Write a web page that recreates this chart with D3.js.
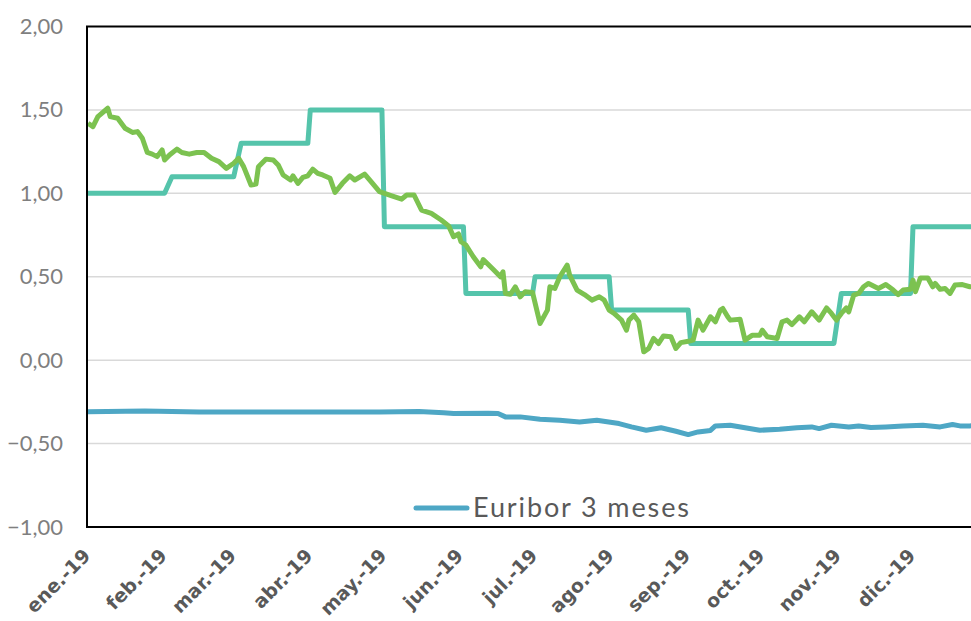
<!DOCTYPE html>
<html>
<head>
<meta charset="utf-8">
<script src="https://d3js.org/d3.v7.min.js"></script>
<style>
  body { margin: 0; background: #fff; }
  svg { display: block; }
</style>
</head>
<body>
<svg width="971" height="621"></svg>
<script>
// Bono 10 años (verde)
const bono = [
  ["2019-01-01",1.42],["2019-01-03",1.40],["2019-01-05",1.46],["2019-01-09",1.51],["2019-01-10",1.46],
  ["2019-01-13",1.45],["2019-01-16",1.39],["2019-01-19",1.365],["2019-01-21",1.37],["2019-01-23",1.33],
  ["2019-01-25",1.245],["2019-01-27",1.235],["2019-01-29",1.22],["2019-01-31",1.26],["2019-02-01",1.20],
  ["2019-02-03",1.23],["2019-02-06",1.265],["2019-02-08",1.245],["2019-02-11",1.235],["2019-02-14",1.245],
  ["2019-02-17",1.245],["2019-02-20",1.21],["2019-02-23",1.19],["2019-02-26",1.15],["2019-03-01",1.18],
  ["2019-03-03",1.21],["2019-03-05",1.16],["2019-03-08",1.05],["2019-03-10",1.055],["2019-03-11",1.16],
  ["2019-03-14",1.205],["2019-03-17",1.20],["2019-03-19",1.17],["2019-03-21",1.11],["2019-03-24",1.08],
  ["2019-03-25",1.105],["2019-03-27",1.06],["2019-03-29",1.095],["2019-03-31",1.105],["2019-04-02",1.145],
  ["2019-04-04",1.12],["2019-04-06",1.11],["2019-04-09",1.09],["2019-04-11",1.005],["2019-04-14",1.06],
  ["2019-04-17",1.105],["2019-04-19",1.08],["2019-04-23",1.115],["2019-04-25",1.08],["2019-04-29",1.01],
  ["2019-05-04",0.985],["2019-05-08",0.965],["2019-05-10",0.99],["2019-05-13",0.99],["2019-05-16",0.90],
  ["2019-05-20",0.88],["2019-05-24",0.84],["2019-05-27",0.805],["2019-05-29",0.74],["2019-05-31",0.757],
  ["2019-06-01",0.71],["2019-06-03",0.69],["2019-06-06",0.62],["2019-06-09",0.56],["2019-06-10",0.603],
  ["2019-06-14",0.545],["2019-06-17",0.50],["2019-06-18",0.53],["2019-06-19",0.40],["2019-06-21",0.395],
  ["2019-06-23",0.44],["2019-06-25",0.38],["2019-06-27",0.41],["2019-06-30",0.405],["2019-07-03",0.22],
  ["2019-07-06",0.30],["2019-07-07",0.44],["2019-07-09",0.43],["2019-07-11",0.50],["2019-07-14",0.57],
  ["2019-07-15",0.51],["2019-07-18",0.42],["2019-07-21",0.393],["2019-07-24",0.36],["2019-07-27",0.38],
  ["2019-07-29",0.36],["2019-07-31",0.30],["2019-08-02",0.28],["2019-08-05",0.24],["2019-08-07",0.18],
  ["2019-08-08",0.24],["2019-08-10",0.27],["2019-08-12",0.23],["2019-08-14",0.05],["2019-08-16",0.07],
  ["2019-08-18",0.13],["2019-08-20",0.10],["2019-08-22",0.145],["2019-08-25",0.14],["2019-08-27",0.07],
  ["2019-08-29",0.105],["2019-09-01",0.113],["2019-09-03",0.12],["2019-09-05",0.24],["2019-09-07",0.18],
  ["2019-09-10",0.26],["2019-09-12",0.23],["2019-09-14",0.30],["2019-09-15",0.31],["2019-09-17",0.26],
  ["2019-09-18",0.24],["2019-09-22",0.245],["2019-09-24",0.12],["2019-09-27",0.15],["2019-09-30",0.15],
  ["2019-10-01",0.18],["2019-10-03",0.14],["2019-10-07",0.13],["2019-10-09",0.23],["2019-10-11",0.24],
  ["2019-10-13",0.213],["2019-10-16",0.26],["2019-10-18",0.23],["2019-10-21",0.29],["2019-10-24",0.24],
  ["2019-10-27",0.313],["2019-10-29",0.28],["2019-10-31",0.24],["2019-11-02",0.28],["2019-11-04",0.313],
  ["2019-11-05",0.29],["2019-11-07",0.39],["2019-11-09",0.40],["2019-11-11",0.44],["2019-11-13",0.46],
  ["2019-11-17",0.43],["2019-11-20",0.453],["2019-11-23",0.42],["2019-11-25",0.393],["2019-11-27",0.42],
  ["2019-11-30",0.425],["2019-12-01",0.48],["2019-12-02",0.41],["2019-12-04",0.493],["2019-12-07",0.493],
  ["2019-12-09",0.44],["2019-12-10",0.46],["2019-12-12",0.425],["2019-12-14",0.43],["2019-12-16",0.40],
  ["2019-12-18",0.45],["2019-12-21",0.453],["2019-12-24",0.44],["2019-12-31",0.45]
];

// serie escalonada (turquesa)
const escalon = [
  ["2019-01-01",1.00],["2019-02-01",1.00],["2019-02-04",1.10],["2019-03-01",1.10],["2019-03-04",1.30],
  ["2019-03-31",1.30],["2019-04-01",1.50],["2019-04-30",1.50],["2019-05-01",0.80],["2019-06-02",0.80],
  ["2019-06-03",0.40],["2019-06-30",0.40],["2019-07-01",0.50],["2019-07-31",0.50],["2019-08-01",0.30],
  ["2019-09-01",0.30],["2019-09-02",0.10],["2019-10-30",0.10],["2019-11-02",0.40],["2019-11-30",0.40],
  ["2019-12-01",0.80],["2019-12-31",0.80]
];

// Euribor 3 meses (azul)
const euribor = [
  ["2019-01-01",-0.309],["2019-01-24",-0.305],["2019-02-15",-0.31],["2019-03-12",-0.31],["2019-04-05",-0.31],
  ["2019-04-29",-0.31],["2019-05-15",-0.308],["2019-05-25",-0.315],["2019-05-29",-0.32],["2019-06-12",-0.318],
  ["2019-06-16",-0.32],["2019-06-19",-0.34],["2019-06-25",-0.34],["2019-07-03",-0.354],["2019-07-11",-0.36],
  ["2019-07-19",-0.37],["2019-07-26",-0.36],["2019-08-04",-0.38],["2019-08-09",-0.40],["2019-08-15",-0.42],
  ["2019-08-21",-0.405],["2019-08-27",-0.426],["2019-09-01",-0.446],["2019-09-05",-0.43],["2019-09-10",-0.421],
  ["2019-09-12",-0.394],["2019-09-18",-0.39],["2019-09-24",-0.405],["2019-09-30",-0.42],["2019-10-08",-0.414],
  ["2019-10-15",-0.405],["2019-10-21",-0.40],["2019-10-24",-0.41],["2019-10-29",-0.39],["2019-11-05",-0.40],
  ["2019-11-09",-0.394],["2019-11-14",-0.404],["2019-11-20",-0.40],["2019-11-27",-0.394],["2019-12-05",-0.39],
  ["2019-12-12",-0.40],["2019-12-17",-0.386],["2019-12-20",-0.394],["2019-12-24",-0.394],["2019-12-31",-0.39]
];

const monthLabels = ["ene.-19","feb.-19","mar.-19","abr.-19","may.-19","jun.-19",
                     "jul.-19","ago.-19","sep.-19","oct.-19","nov.-19","dic.-19"];
const yTicks = [-1, -0.5, 0, 0.5, 1, 1.5, 2];
const legendLabel = "Euribor 3 meses";

const parse = d3.timeParse("%Y-%m-%d");
const mLeft = 88, mTop = 26.5, mBottom = 527;
const svg = d3.select("svg");

const x = d3.scaleTime()
  .domain([parse("2019-01-01"), parse("2020-01-01")])
  .range([mLeft, mLeft + 365 * 2.47]);
const y = d3.scaleLinear().domain([-1, 2]).range([mBottom, mTop]);

const es = d3.formatLocale({decimal: ",", thousands: ".", grouping: [3], currency: ["", "€"]});
const fmt = es.format(".2f");

// rejilla
svg.append("g").selectAll("line").data(yTicks.filter(d => d > -1 && d < 2)).enter().append("line")
  .attr("x1", mLeft).attr("x2", 971)
  .attr("y1", d => y(d)).attr("y2", d => y(d))
  .style("stroke", "#d9d9d9").style("stroke-width", 1.5);

// eje Y
const yAxis = svg.append("g")
  .attr("transform", "translate(" + mLeft + ",0)")
  .call(d3.axisLeft(y).tickValues(yTicks).tickFormat(fmt).tickSize(0).tickPadding(25));
yAxis.select(".domain").remove();
yAxis.selectAll("text")
  .style("font-family", "'Lato', 'DejaVu Sans', sans-serif")
  .style("font-size", "22px")
  .style("fill", "#7f7f7f");

// eje X
const months = d3.timeMonth.range(parse("2019-01-01"), parse("2019-12-02"));
const xAxis = svg.append("g")
  .attr("transform", "translate(0," + mBottom + ")")
  .call(d3.axisBottom(x).tickValues(months).tickFormat((d, i) => monthLabels[i]).tickSize(0));
xAxis.select(".domain").remove();
xAxis.selectAll("text")
  .attr("text-anchor", "end")
  .attr("dy", null)
  .attr("y", 0)
  .attr("transform", "translate(3,30) rotate(-45)")
  .style("font-family", "'DejaVu Sans', sans-serif")
  .style("font-weight", "bold")
  .style("font-size", "19px")
  .style("fill", "#595959");

// marco
svg.append("path")
  .attr("d", "M971," + mTop + "H" + (mLeft - 1) + "V" + mBottom + "H971")
  .style("fill", "none").style("stroke", "#000").style("stroke-width", 2);

svg.append("clipPath").attr("id", "plot")
  .append("rect").attr("x", mLeft).attr("y", mTop).attr("width", 971 - mLeft).attr("height", mBottom - mTop);

const line = d3.line().x(d => x(parse(d[0]))).y(d => y(d[1]));
const g = svg.append("g").attr("clip-path", "url(#plot)");

g.append("path").datum(euribor).attr("d", line)
  .style("fill", "none").style("stroke", "#4ea7c5").style("stroke-width", 5).style("stroke-linejoin", "round");
g.append("path").datum(escalon).attr("d", line)
  .style("fill", "none").style("stroke", "#55c4ab").style("stroke-width", 5).style("stroke-linejoin", "round");
g.append("path").datum(bono).attr("d", line)
  .style("fill", "none").style("stroke", "#7cc250").style("stroke-width", 5).style("stroke-linejoin", "round");

// leyenda
svg.append("line")
  .attr("x1", 416).attr("x2", 467).attr("y1", 508).attr("y2", 508)
  .style("stroke", "#4ea7c5").style("stroke-width", 5).style("stroke-linecap", "round");
svg.append("text")
  .attr("x", 473).attr("y", 517)
  .attr("textLength", 216)
  .style("font-family", "'Lato', 'DejaVu Sans', sans-serif")
  .style("font-size", "27px")
  .style("fill", "#595959")
  .text(legendLabel);
</script>
</body>
</html>
